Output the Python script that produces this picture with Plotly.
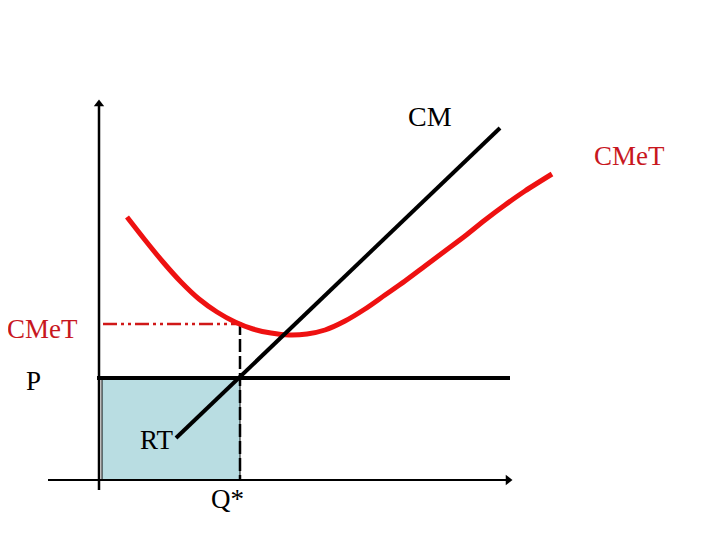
import plotly.graph_objects as go

# Chart coordinates (canvas units: x to right, y downward)
cmet_x = [127, 145, 163, 181, 199, 217, 235, 253, 271, 289, 307, 325, 345, 365, 385, 405, 425, 445, 465, 485, 505, 525, 552]
cmet_y = [217, 240, 262, 282, 299, 312, 322, 329, 333, 335, 334, 330, 321, 309, 295, 281, 266, 251, 236, 220, 205, 191, 174]
cm_x = [176, 500]
cm_y = [438, 128]
price_x = [97, 510]
price_y = [378, 378]
cmet_level_x = [103, 240]
cmet_level_y = [324, 324]
q_x = [240, 240]
q_y = [322, 480]
rt_x = [102, 240, 240, 102, 102]
rt_y = [378, 378, 480, 480, 378]
yaxis_x = [99, 99]
yaxis_y = [490, 104]
xaxis_x = [48, 508]
xaxis_y = [480, 480]

labels = ["CM", "CMeT", "CMeT", "P", "RT", "Q*"]
label_x = [430, 629, 42, 33, 156, 227]
label_y = [116, 156, 329, 381, 440, 499]
label_sizes = [28, 27, 27, 27, 27, 27]
label_colors = ["black", "#c8171e", "#c8171e", "black", "black", "black"]

OFF = 8  # page body margin compensation

fig = go.Figure()

fig.add_trace(go.Scatter(x=rt_x, y=rt_y, mode="lines", fill="toself",
                         fillcolor="#b9dde2", line=dict(color="black", width=1)))
fig.add_trace(go.Scatter(x=yaxis_x, y=yaxis_y, mode="lines", line=dict(color="black", width=2.5)))
fig.add_trace(go.Scatter(x=xaxis_x, y=xaxis_y, mode="lines", line=dict(color="black", width=2)))
fig.add_trace(go.Scatter(x=[yaxis_x[1]], y=[yaxis_y[1]], mode="markers",
                         marker=dict(symbol="triangle-up", size=9, color="black")))
fig.add_trace(go.Scatter(x=[xaxis_x[1]], y=[xaxis_y[1]], mode="markers",
                         marker=dict(symbol="triangle-right", size=9, color="black")))
fig.add_trace(go.Scatter(x=q_x, y=q_y, mode="lines",
                         line=dict(color="black", width=2.5, dash="13px,4px")))
fig.add_trace(go.Scatter(x=cmet_level_x, y=cmet_level_y, mode="lines",
                         line=dict(color="#d01818", width=2.5, dash="14px,4px,3px,4px,3px,4px")))
fig.add_trace(go.Scatter(x=price_x, y=price_y, mode="lines", line=dict(color="black", width=4)))
fig.add_trace(go.Scatter(x=cmet_x, y=cmet_y, mode="lines",
                         line=dict(color="#ee1111", width=5, shape="spline", smoothing=0.8)))
fig.add_trace(go.Scatter(x=cm_x, y=cm_y, mode="lines", line=dict(color="black", width=4)))

for t, x, y, s, c in zip(labels, label_x, label_y, label_sizes, label_colors):
    fig.add_annotation(x=x, y=y, text=t, showarrow=False,
                       font=dict(family="Liberation Serif", size=s, color=c),
                       xanchor="center", yanchor="middle")

fig.update_layout(
    width=720, height=540, showlegend=False,
    margin=dict(l=0, r=0, t=0, b=0),
    plot_bgcolor="white", paper_bgcolor="white",
    xaxis=dict(range=[OFF, 720 + OFF], visible=False, fixedrange=True),
    yaxis=dict(range=[540 + OFF, OFF], visible=False, fixedrange=True),
)

fig.write_html("out.html")
